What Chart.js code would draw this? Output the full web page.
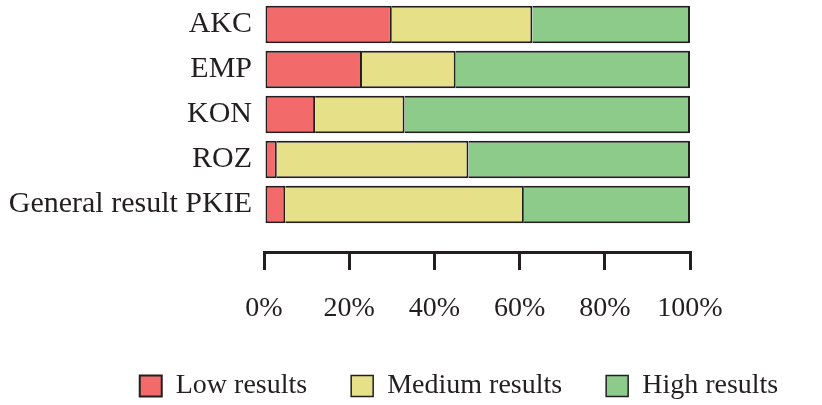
<!DOCTYPE html>
<html>
<head>
<meta charset="utf-8">
<script src="https://cdn.jsdelivr.net/npm/chart.js@4/dist/chart.umd.min.js"></script>
<style>
  html, body { margin: 0; padding: 0; background: #ffffff; }
  #wrap { width: 822px; height: 405px; position: relative; }
</style>
</head>
<body>
<div id="wrap"><canvas id="c"></canvas></div>
<script>
// Data (percent of respondents)
const categories = ['AKC', 'EMP', 'KON', 'ROZ', 'General result PKIE'];
const lowResults = [30, 23, 12, 3, 5];
const mediumResults = [33, 22, 21, 45, 56];
const highResults = [37, 55, 67, 52, 39];
const seriesNames = ['Low results', 'Medium results', 'High results'];
const xTicks = [0, 20, 40, 60, 80, 100];

const FONT = '"Liberation Serif", "DejaVu Serif", serif';
const INK = '#231f20';

const toPoints = arr => arr.map((v, i) => ({ x: v, y: i }));

// moves the legend block so it sits where the reference has it
const legendShift = {
  id: 'legendShift',
  afterLayout(chart) {
    const l = chart.legend;
    if (!l) return;
    l.left += 48; l.right += 48;
    l.top += 5; l.bottom += 5;
  }
};

new Chart(document.getElementById('c'), {
  type: 'bar',
  data: {
    datasets: [
      {
        label: seriesNames[0],
        data: toPoints(lowResults),
        backgroundColor: '#F26A6A',
        borderColor: INK,
        borderWidth: { left: 2, right: 2, top: 2, bottom: 2 },
        borderSkipped: false
      },
      {
        label: seriesNames[1],
        data: toPoints(mediumResults),
        backgroundColor: '#E6E088',
        borderColor: INK,
        borderWidth: { left: 0, right: 2, top: 2, bottom: 2 },
        borderSkipped: false
      },
      {
        label: seriesNames[2],
        data: toPoints(highResults),
        backgroundColor: '#8DCB8B',
        borderColor: INK,
        borderWidth: { left: 0, right: 2, top: 2, bottom: 2 },
        borderSkipped: false
      }
    ]
  },
  options: {
    indexAxis: 'y',
    responsive: true,
    maintainAspectRatio: false,
    animation: false,
    barPercentage: 0.83,
    categoryPercentage: 1,
    layout: { padding: { top: 2, left: 0, right: 0, bottom: 0 } },
    scales: {
      x: {
        type: 'linear',
        position: 'bottom',
        stacked: true,
        min: 0,
        max: 100,
        afterBuildTicks: s => { s.ticks = xTicks.map(v => ({ value: v })); },
        afterFit: s => { s.height = 71; },
        ticks: {
          callback: v => v + '%',
          font: { family: FONT, size: 28 },
          color: INK,
          padding: 22,
          maxRotation: 0
        },
        grid: {
          display: true,
          drawOnChartArea: false,
          drawTicks: true,
          tickLength: 18,
          lineWidth: 3,
          color: INK
        },
        border: { display: true, width: 3, color: INK }
      },
      y: {
        type: 'linear',
        position: 'left',
        stacked: true,
        reverse: true,
        offset: false,
        min: -0.5,
        max: 5.056,
        afterBuildTicks: s => { s.ticks = categories.map((_, i) => ({ value: i })); },
        afterFit: s => { s.width = 264; s.paddingTop = 0; s.paddingBottom = 0; },
        ticks: {
          callback: v => categories[v],
          font: { family: FONT, size: 30 },
          color: INK,
          padding: 12
        },
        grid: { display: false, drawTicks: false, offset: false },
        border: { display: false }
      },
      spacer: {
        type: 'linear',
        position: 'right',
        display: true,
        afterFit: s => { s.width = 132; },
        ticks: { display: false },
        grid: { display: false, drawTicks: false },
        border: { display: false }
      }
    },
    plugins: {
      legend: {
        display: true,
        position: 'bottom',
        labels: {
          boxWidth: 22,
          boxHeight: 21,
          padding: 44,
          color: INK,
          font: { family: FONT, size: 28 }
        }
      },
      tooltip: { enabled: false },
      title: { display: false }
    }
  },
  plugins: [legendShift]
});
</script>
</body>
</html>
